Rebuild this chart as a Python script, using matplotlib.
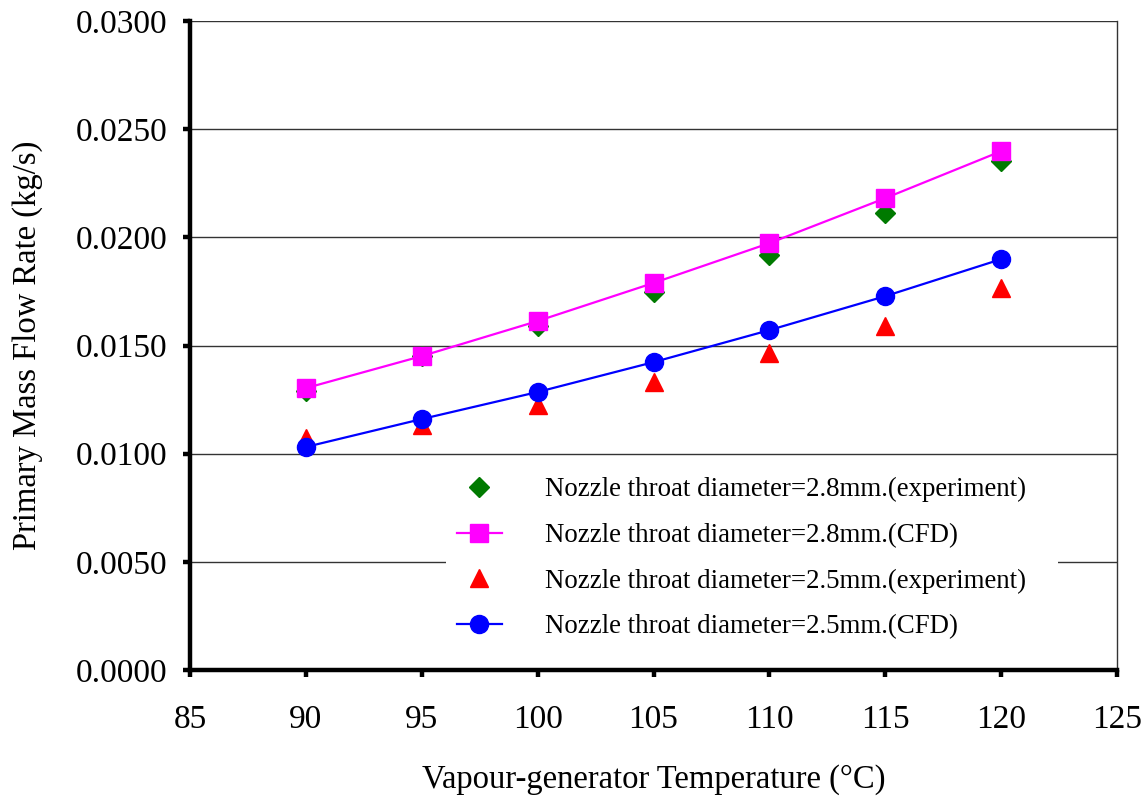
#!/usr/bin/env python3
"""Primary mass flow rate vs vapour-generator temperature (CFD vs experiment)."""
import matplotlib
matplotlib.use("Agg")
import matplotlib.pyplot as plt
from matplotlib.ticker import FormatStrFormatter, MultipleLocator

plt.rcParams["font.family"] = ["Liberation Serif", "DejaVu Serif"]

temps = [90, 95, 100, 105, 110, 115, 120]
exp_28 = [0.0129, 0.0145, 0.0159, 0.01747, 0.01918, 0.02112, 0.02352]
cfd_28 = [0.01303, 0.01451, 0.01613, 0.01789, 0.01973, 0.02181, 0.02398]
exp_25 = [0.01072, 0.01132, 0.01225, 0.01331, 0.01465, 0.0159, 0.01765]
cfd_25 = [0.01031, 0.0116, 0.01285, 0.01423, 0.01571, 0.01728, 0.01899]

labels = [
    "Nozzle throat diameter=2.8mm.(experiment)",
    "Nozzle throat diameter=2.8mm.(CFD)",
    "Nozzle throat diameter=2.5mm.(experiment)",
    "Nozzle throat diameter=2.5mm.(CFD)",
]

fig = plt.figure(figsize=(11.45, 7.96), dpi=100)
ax = fig.add_axes([190 / 1145, 1 - 670 / 796, 927 / 1145, 649 / 796])

ax.plot(temps, exp_28, ls="none", marker="D", ms=10, color="#007a00",
        mec="#007a00", label=labels[0], zorder=3)
ax.plot(temps, cfd_28, "-", color="#ff00ff", lw=1.6, marker="s", ms=13,
        mfc="#ff00ff", mec="#ff00ff", label=labels[1], zorder=4)
ax.plot(temps, exp_25, ls="none", marker="^", ms=12.5, color="#ff0000",
        label=labels[2], zorder=3)
ax.plot(temps, cfd_25, "-", color="#0000ff", lw=1.6, marker="o", ms=13,
        label=labels[3], zorder=4)

ax.set_xlim(85, 125)
ax.set_ylim(0, 0.03)
ax.xaxis.set_major_locator(MultipleLocator(5))
ax.yaxis.set_major_locator(MultipleLocator(0.005))
ax.yaxis.set_major_formatter(FormatStrFormatter("%.4f"))
ax.grid(axis="y", color="#333333", lw=1.0)
ax.set_axisbelow(True)

for side in ("left", "bottom"):
    ax.spines[side].set_linewidth(3.2)
ax.spines["right"].set_linewidth(1.0)
ax.spines["right"].set_color("#333333")
ax.spines["top"].set_visible(False)
ax.tick_params(direction="out", length=5, width=3.2, labelsize=24)
ax.tick_params(axis="x", pad=20)
ax.tick_params(axis="y", pad=11)

ax.set_xlabel("Vapour-generator Temperature (\u00b0C)", fontsize=23.5,
              labelpad=21)
ax.set_ylabel("Primary Mass Flow Rate (kg/s)", fontsize=23.5, labelpad=24)

leg = ax.legend(loc="lower left", bbox_to_anchor=(0.276, 0.031, 0.66, 0.27),
                mode="expand", fontsize=19.4, frameon=True, fancybox=False,
                edgecolor="none", facecolor="white", framealpha=1.0,
                handlelength=1.67, handletextpad=1.6, labelspacing=0.76,
                borderpad=0.4, borderaxespad=0)
leg.set_zorder(5)

fig.savefig("out.png", dpi=100)
